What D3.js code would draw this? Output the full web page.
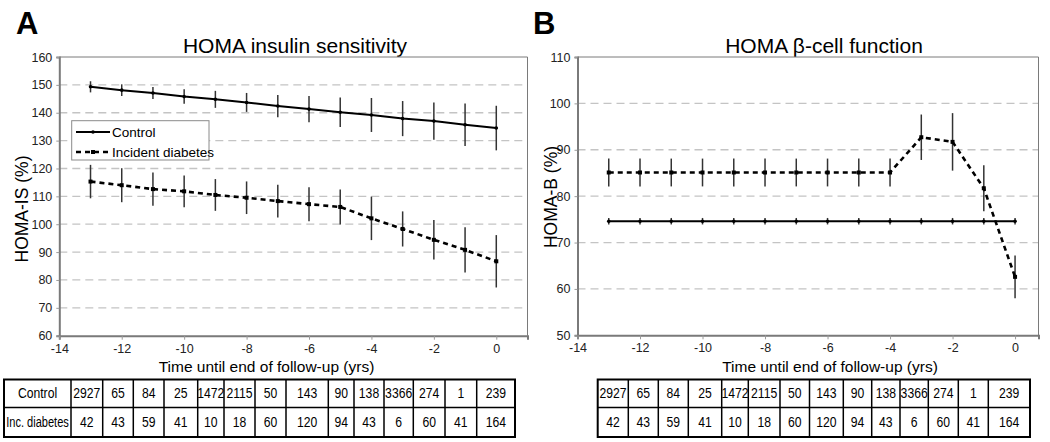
<!DOCTYPE html>
<html><head><meta charset="utf-8">
<script src="https://cdn.jsdelivr.net/npm/d3@7"></script>
<style>body{margin:0;background:#fff}svg{display:block;font-family:Arial,"Liberation Sans",Helvetica,sans-serif}</style>
</head><body><svg id="c" width="1050" height="442"></svg>
<script>
// ---------- data ----------
const years = [-13,-12,-11,-10,-9,-8,-7,-6,-5,-4,-3,-2,-1,0];
const controlIS    = [149.3,148.1,147.1,145.8,144.8,143.7,142.4,141.3,140.2,139.2,137.9,137.0,135.7,134.5];
const controlISErr = [2.0,2.1,2.15,2.6,3.05,3.4,4.0,4.7,5.3,6.1,6.3,6.7,7.6,8.0];
const diabetesIS    = [115.3,114.0,112.6,111.8,110.5,109.5,108.3,107.2,106.2,102.1,98.3,94.4,90.8,86.7];
const diabetesISErr = [6.0,6.1,6.0,5.7,5.7,5.85,5.9,6.1,6.3,7.8,6.3,7.1,8.1,9.4];
const controlB    = [74.6,74.6,74.6,74.6,74.6,74.6,74.6,74.6,74.6,74.6,74.6,74.6,74.6,74.6];
const controlBErr = [0.7,0.7,0.7,0.7,0.7,0.7,0.7,0.7,0.7,0.7,0.7,0.7,0.7,0.7];
const diabetesB    = [85.1,85.1,85.1,85.1,85.1,85.1,85.1,85.1,85.1,85.1,92.7,91.7,81.7,62.6];
const diabetesBErr = [3.0,3.0,3.0,3.0,3.0,3.0,3.0,3.0,3.0,3.0,4.9,6.2,4.95,4.6];
const xTicks = [-14,-12,-10,-8,-6,-4,-2,0];
const yTicksIS = [60,70,80,90,100,110,120,130,140,150,160];
const yTicksB = [50,60,70,80,90,100,110];
const seriesNames = ["Control","Incident diabetes"];
const tableRowLabels = ["Control","Inc. diabetes"];
const nControl  = [2927,65,84,25,1472,2115,50,143,90,138,3366,274,1,239];
const nDiabetes = [42,43,59,41,10,18,60,120,94,43,6,60,41,164];
const titles = ["HOMA insulin sensitivity","HOMA \u03b2-cell function"];
const yLabels = ["HOMA-IS (%)","HOMA-B (%)"];
const xLabel = "Time until end of follow-up (yrs)";
const panelLetters = ["A","B"];

// ---------- layout ----------
const svg = d3.select("#c");
const panels = [
  {letter:panelLetters[0], title:titles[0], ylab:yLabels[0], xd:[-14,1], xr:[59.3,527.5], yd:[60,160], yr:[335.7,57],
   yt:yTicksIS, ctrl:controlIS, ctrlE:controlISErr, diab:diabetesIS, diabE:diabetesISErr,
   letterX:16, titleX:295, ylabX:28, ylabY:209, xlabX:266.5, legend:true,
   tableX:4, headerW:67, colW:[31.7,30.6,30.7,33.7,26.3,31,31,42.3,25.7,30,29.3,31.7,31.7,38.3]},
  {letter:panelLetters[1], title:titles[1], ylab:yLabels[1], xd:[-14,0.75], xr:[577.5,1038.5], yd:[50,110], yr:[335.3,57],
   yt:yTicksB, ctrl:controlB, ctrlE:controlBErr, diab:diabetesB, diabE:diabetesBErr,
   letterX:533, titleX:824, ylabX:557, ylabY:197, xlabX:830, legend:false,
   tableX:597.7, headerW:0, colW:[30.6,30,30,33.4,26.6,31.7,29.5,33.8,28.4,28.3,28.3,30,30,41.7]}
];
const rowTop = 379.5, rowMid = 407.5, rowBot = 437;
const fmt = d => String(d);

function cellText(sel, cx, base, txt, fitW) {
  const t = sel.append("text").attr("transform",`translate(${cx},${base}) scale(0.87,1)`)
    .attr("text-anchor","middle").attr("font-size",14).text(txt);
  if (fitW) t.attr("textLength",fitW).attr("lengthAdjust","spacingAndGlyphs");
  return t;
}

panels.forEach(p => {
  const x = d3.scaleLinear().domain(p.xd).range(p.xr);
  const y = d3.scaleLinear().domain(p.yd).range(p.yr);
  const g = svg.append("g");
  // letter + title
  g.append("text").attr("x",p.letterX).attr("y",34).attr("font-size",31).attr("font-weight","bold").text(p.letter);
  g.append("text").attr("x",p.titleX).attr("y",53).attr("text-anchor","middle").attr("font-size",21).text(p.title);
  // gridlines
  g.append("g").selectAll("line").data(p.yt.slice(1,-1)).join("line")
    .attr("x1",p.xr[0]).attr("x2",p.xr[1]).attr("y1",d=>y(d)).attr("y2",d=>y(d))
    .attr("stroke","#c4c4c4").attr("stroke-width",1.3).attr("stroke-dasharray","8,5");
  // frame top/right
  g.append("path").attr("d",`M${p.xr[0]},${p.yr[1]}H${p.xr[1]}V${p.yr[0]}`).attr("fill","none").attr("stroke","#7a7a7a").attr("stroke-width",1);
  // axes
  const ya = g.append("g").attr("transform",`translate(${p.xr[0]},0)`).call(d3.axisLeft(y).tickValues(p.yt).tickFormat(fmt).tickSize(3).tickPadding(4));
  const xa = g.append("g").attr("transform",`translate(0,${p.yr[0]})`).call(d3.axisBottom(x).tickValues(xTicks).tickFormat(fmt).tickSize(4).tickPadding(4));
  [ya,xa].forEach(a=>{
    a.select(".domain").attr("stroke","#7a7a7a").attr("stroke-width",2);
    a.selectAll(".tick line").attr("stroke","#9a9a9a");
    a.selectAll("text").attr("font-size",12.5).attr("fill","#222").attr("font-family","Arial, 'Liberation Sans', sans-serif");
  });
  // axis titles
  g.append("text").attr("transform",`translate(${p.ylabX},${p.ylabY}) rotate(-90)`).attr("text-anchor","middle").attr("font-size",17.5).text(p.ylab);
  g.append("text").attr("x",p.xlabX).attr("y",372).attr("text-anchor","middle").attr("font-size",15.5).text(xLabel);

  // error bars
  const eb = (vals,errs) => g.append("g").selectAll("line").data(years).join("line")
    .attr("x1",(d,i)=>x(d)).attr("x2",(d,i)=>x(d)).attr("y1",(d,i)=>y(vals[i]-errs[i])).attr("y2",(d,i)=>y(vals[i]+errs[i]))
    .attr("stroke","#333").attr("stroke-width",1.5);
  eb(p.ctrl,p.ctrlE); eb(p.diab,p.diabE);
  // lines
  const line = vals => d3.line().x((d,i)=>x(years[i])).y((d,i)=>y(vals[i]))(vals);
  g.append("path").attr("d",line(p.ctrl)).attr("fill","none").attr("stroke","#000").attr("stroke-width",2);
  g.append("path").attr("d",line(p.diab)).attr("fill","none").attr("stroke","#000").attr("stroke-width",2.6).attr("stroke-dasharray","5,4");
  // markers
  g.append("g").selectAll("circle").data(years).join("circle").attr("cx",d=>x(d)).attr("cy",(d,i)=>y(p.ctrl[i])).attr("r",1.8).attr("fill","#000");
  g.append("g").selectAll("rect").data(years).join("rect").attr("x",d=>x(d)-2).attr("y",(d,i)=>y(p.diab[i])-2).attr("width",4).attr("height",4).attr("fill","#000");

  // legend
  if (p.legend) {
    const lg = g.append("g");
    lg.append("rect").attr("x",71.7).attr("y",120.7).attr("width",137.3).attr("height",39.3).attr("fill","#fff").attr("stroke","#8a8a8a").attr("stroke-width",1);
    seriesNames.forEach((s,i)=>{
      const ly = 132 + i*20;
      lg.append("line").attr("x1",76).attr("x2",110).attr("y1",ly).attr("y2",ly).attr("stroke","#000")
        .attr("stroke-width", i? 2.6:2).attr("stroke-dasharray", i? "5,4":null);
      if (i) lg.append("rect").attr("x",91).attr("y",ly-2).attr("width",4).attr("height",4);
      else lg.append("circle").attr("cx",93).attr("cy",ly).attr("r",1.8);
      lg.append("text").attr("x",112).attr("y",ly+4.5).attr("font-size",13.5).text(s);
    });
  }

  // table
  const tg = g.append("g");
  const edges = [p.tableX];
  if (p.headerW) edges.push(p.tableX + p.headerW);
  p.colW.forEach(w => edges.push(edges[edges.length-1] + w));
  const left = edges[0], right = edges[edges.length-1];
  tg.selectAll("line.v").data(edges.slice(1,-1)).join("line").attr("x1",d=>d).attr("x2",d=>d).attr("y1",rowTop).attr("y2",rowBot).attr("stroke","#000").attr("stroke-width",1.5);
  tg.append("line").attr("x1",left).attr("x2",right).attr("y1",rowMid).attr("y2",rowMid).attr("stroke","#000").attr("stroke-width",1.5);
  tg.append("rect").attr("x",left).attr("y",rowTop).attr("width",right-left).attr("height",rowBot-rowTop).attr("fill","none").attr("stroke","#000").attr("stroke-width",2);
  const dataStart = p.headerW ? 1 : 0;
  const rows = [nControl, nDiabetes];
  rows.forEach((r,ri)=>{
    const base = ri ? 427 : 398;
    if (p.headerW) cellText(tg, (edges[0]+edges[1])/2, base, tableRowLabels[ri], ri ? 72 : null);
    r.forEach((v,ci)=>{
      const a = edges[dataStart+ci], b = edges[dataStart+ci+1];
      cellText(tg, (a+b)/2, base, v);
    });
  });
});
</script></body></html>
